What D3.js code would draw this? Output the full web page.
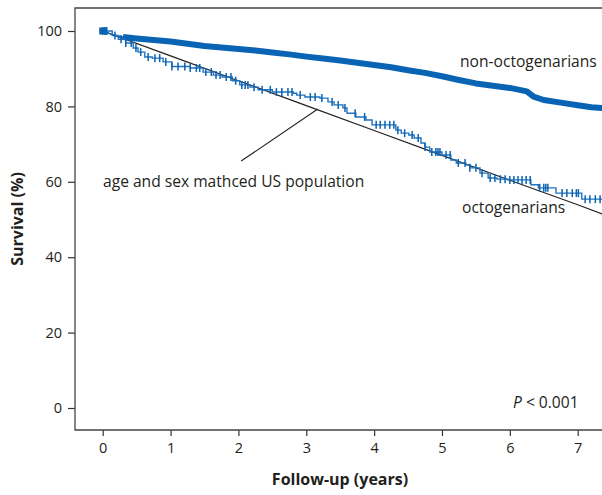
<!DOCTYPE html>
<html lang="en">
<head>
<meta charset="utf-8">
<title>Survival</title>
<script src="https://d3js.org/d3.v7.min.js"></script>
<style>
  body { margin: 0; background: #fff; }
  text { font-family: "Open Sans", "Noto Sans", sans-serif; fill: #231f20; }
  .axis-title { font-size: 16px; font-weight: bold; }
  .note { font-size: 15.6px; }
</style>
</head>
<body>
<svg width="602" height="495"></svg>
<script>
// x tick values (years) and y tick values (%)
var xTicks = [0, 1, 2, 3, 4, 5, 6, 7];
var yTicks = [0, 20, 40, 60, 80, 100];

// octogenarians: Kaplan-Meier steps [years, survival %]
var octoSteps = [[0,100],[0.14,98.8],[0.23,97.8],[0.34,96.8],[0.45,95.5],[0.52,94.4],[0.62,93.1],
  [0.73,92.8],[0.89,91.8],[1.02,90.6],[1.29,90.2],[1.48,89.1],[1.63,88.3],[1.76,87.8],[1.91,86.8],
  [2.02,85.7],[2.17,85.1],[2.29,84.4],[2.50,83.8],[2.81,83.5],[2.86,83.0],[2.98,82.5],[3.20,82.2],
  [3.32,81.2],[3.41,80.4],[3.54,79.6],[3.60,78.2],[3.73,77.2],[3.88,76.4],[3.97,75.1],[4.32,73.7],
  [4.40,72.9],[4.51,72.4],[4.59,71.6],[4.69,70.3],[4.75,69.2],[4.82,67.9],[5.00,67.1],[5.13,65.8],
  [5.21,65.0],[5.35,64.5],[5.41,63.7],[5.56,62.3],[5.68,61.0],[5.81,60.7],[5.97,60.5],[6.31,59.2],
  [6.42,58.4],[6.68,57.0],[7.06,55.4],[7.40,55.4]];

// octogenarians: censored times (years)
var octoCensor = [0, 0.03, 0.06, 0.18, 0.27, 0.34, 0.42, 0.49, 0.56, 0.67, 0.77, 0.84, 0.93, 1.02,
  1.11, 1.21, 1.29, 1.38, 1.43, 1.52, 1.60, 1.67, 1.73, 1.82, 1.89, 1.96, 2.05, 2.10, 2.14, 2.23,
  2.35, 2.47, 2.56, 2.64, 2.73, 2.79, 2.91, 3.06, 3.13, 3.23, 3.38, 3.47, 3.57, 3.72, 3.86, 4.03,
  4.09, 4.16, 4.23, 4.29, 4.35, 4.45, 4.56, 4.65, 4.75, 4.85, 4.91, 4.94, 4.97, 5.06, 5.12, 5.24,
  5.34, 5.41, 5.50, 5.59, 5.71, 5.78, 5.86, 5.93, 6.00, 6.06, 6.12, 6.18, 6.24, 6.30, 6.44, 6.50,
  6.53, 6.56, 6.77, 6.84, 6.92, 6.98, 7.01, 7.11, 7.18, 7.26, 7.33];

// non-octogenarians: survival [years, survival %]
var nonOctoCurve = [[0,100],[0.1,99.3],[0.2,98.8],[0.3,98.4],[0.5,98.0],[0.75,97.6],[1.0,97.2],
  [1.25,96.6],[1.5,96.0],[1.75,95.6],[2.0,95.2],[2.25,94.8],[2.5,94.3],[2.75,93.8],[3.0,93.2],
  [3.25,92.7],[3.5,92.2],[3.75,91.6],[4.0,91.0],[4.25,90.4],[4.5,89.6],[4.75,88.9],[5.0,88.0],
  [5.25,87.0],[5.5,86.1],[5.75,85.5],[6.0,84.9],[6.25,84.0],[6.35,82.6],[6.5,81.7],[6.75,81.0],
  [7.0,80.3],[7.2,79.8],[7.4,79.5]];

// age and sex matched US population (expected survival)
var expected = [[0,100],[1,93.4],[2,86.8],[3,80.2],[4,73.6],[5,67.0],[6,60.4],[7,53.9],[7.4,51.2]];

var svg = d3.select("svg");
var plotLeft = 75, plotBottom = 430, plotTop = 8, plotRight = 602;

var xScale = d3.scaleLinear().domain([0, 7]).range([102.7, 577.7]);
var yScale = d3.scaleLinear().domain([0, 100]).range([408, 31]);

svg.append("defs").append("clipPath").attr("id", "plot")
  .append("rect").attr("x", plotLeft).attr("y", plotTop)
  .attr("width", plotRight - plotLeft).attr("height", plotBottom - plotTop);

// axes
var xAxis = svg.append("g")
  .attr("transform", `translate(0, ${plotBottom})`)
  .call(d3.axisBottom(xScale).tickValues(xTicks).tickFormat(d3.format("d"))
    .tickSize(6).tickPadding(7).tickSizeOuter(0));
var yAxis = svg.append("g")
  .attr("transform", `translate(${plotLeft}, 0)`)
  .call(d3.axisLeft(yScale).tickValues(yTicks).tickFormat(d3.format("d"))
    .tickSize(7).tickPadding(6).tickSizeOuter(0));
[xAxis, yAxis].forEach(function(a) {
  a.select(".domain").remove();
  a.selectAll(".tick line").attr("stroke", "#333").attr("stroke-width", 1.2);
  a.selectAll(".tick text").attr("fill", "#231f20")
    .style("font-family", '"Open Sans", sans-serif').style("font-size", "14.5px");
});

// frame
svg.append("path")
  .attr("d", `M${plotRight},${plotTop}H${plotLeft}V${plotBottom}H${plotRight}`)
  .attr("fill", "none").attr("stroke", "#444").attr("stroke-width", 1.3);

var plot = svg.append("g").attr("clip-path", "url(#plot)");
var step = d3.line().x(d => xScale(d[0])).y(d => yScale(d[1])).curve(d3.curveStepAfter);
var straight = d3.line().x(d => xScale(d[0])).y(d => yScale(d[1]));

var blue = "#0a64b4";

// expected survival line
plot.append("path").datum(expected)
  .attr("d", straight).attr("fill", "none").attr("stroke", "#231f20").attr("stroke-width", 1.2);

// non-octogenarians: dense censor marks form a thick band
plot.append("path").datum(nonOctoCurve.filter(d => d[0] >= 0.3))
  .attr("d", straight).attr("fill", "none").attr("stroke", blue).attr("stroke-width", 6)
  .attr("stroke-linejoin", "round");
plot.append("path").datum(nonOctoCurve)
  .attr("d", straight).attr("fill", "none").attr("stroke", blue).attr("stroke-width", 1.5);

// octogenarians
plot.append("path").datum(octoSteps)
  .attr("d", step).attr("fill", "none").attr("stroke", "#2272bf").attr("stroke-width", 1.4);

function octoAt(t) {
  var v = octoSteps[0][1];
  octoSteps.forEach(function(d) { if (d[0] <= t) v = d[1]; });
  return v;
}
plot.selectAll(".cens").data(octoCensor).enter().append("line")
  .attr("class", "cens")
  .attr("x1", d => xScale(d)).attr("x2", d => xScale(d))
  .attr("y1", d => yScale(octoAt(d)) - 4).attr("y2", d => yScale(octoAt(d)) + 4)
  .attr("stroke", blue).attr("stroke-width", 1.5);

// start marker cluster
plot.append("rect")
  .attr("x", xScale(0) - 3.5).attr("y", yScale(100) - 3.5).attr("width", 7).attr("height", 7)
  .attr("fill", blue);

// annotations
svg.append("line")
  .attr("x1", xScale(2.04)).attr("y1", yScale(65.5)).attr("x2", xScale(3.17)).attr("y2", yScale(79.3))
  .attr("stroke", "#231f20").attr("stroke-width", 1.1);
svg.append("text").attr("class", "note").attr("x", 103).attr("y", 187)
  .text("age and sex mathced US population");
svg.append("text").attr("class", "note").attr("x", 460).attr("y", 67)
  .text("non-octogenarians");
svg.append("text").attr("class", "note").attr("x", 462).attr("y", 213)
  .text("octogenarians");
var p = svg.append("text").attr("class", "note").attr("x", 513).attr("y", 408);
p.append("tspan").attr("font-style", "italic").text("P");
p.append("tspan").text(" < 0.001");

// axis titles
svg.append("text").attr("class", "axis-title")
  .attr("x", 340).attr("y", 485).attr("text-anchor", "middle")
  .text("Follow-up (years)");
svg.append("text").attr("class", "axis-title")
  .attr("transform", "translate(23, 219) rotate(-90)").attr("text-anchor", "middle")
  .text("Survival (%)");
</script>
</body>
</html>
